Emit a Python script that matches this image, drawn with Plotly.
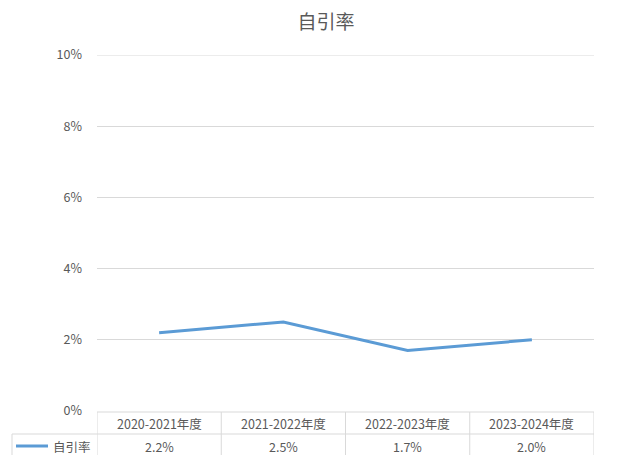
import plotly.graph_objects as go

categories = ["2020-2021年度", "2021-2022年度", "2022-2023年度", "2023-2024年度"]
values = [0.022, 0.025, 0.017, 0.020]
series_name = "自引率"
title = "自引率"
y_max = 0.1

OFF = 8  # default page body margin
W, H = 644 - OFF, 474 - OFF
# plot area in page pixels: x 97..594, y 55..411
L = 97 - OFF
R = W - (594 - OFF)
T = 55 - OFF
B = H - (411 - OFF)
font_family = "Noto Sans CJK SC, Noto Sans, sans-serif"
txt = "#595959"
grid = "#d9d9d9"
line_color = "#5b9bd5"

fig = go.Figure()
fig.add_trace(go.Scatter(x=list(range(len(categories))), y=values, mode="lines",
                         name=series_name,
                         line=dict(color=line_color, width=3), showlegend=False))

plot_h = H - T - B
plot_w = W - L - R

def py(page_y):  # page pixel y -> paper
    return (H - B - (page_y - OFF)) / plot_h

def px_x(page_x):
    return ((page_x - OFF) - L) / plot_w

shapes = []
# top gridline at the axis maximum
shapes.append(dict(type="line", xref="paper", yref="y", x0=0, x1=1, y0=y_max, y1=y_max,
                   line=dict(color=grid, width=1), layer="below"))
top_y, mid_y, bot_y = 412, 434, 455
shapes.append(dict(type="line", xref="paper", yref="paper", x0=px_x(97), x1=px_x(594),
                   y0=py(top_y), y1=py(top_y), line=dict(color=grid, width=1)))
shapes.append(dict(type="line", xref="paper", yref="paper", x0=px_x(12), x1=px_x(594),
                   y0=py(mid_y), y1=py(mid_y), line=dict(color=grid, width=1)))
for i in range(len(categories) + 1):
    shapes.append(dict(type="line", xref="x", yref="paper", x0=i - 0.5, x1=i - 0.5,
                       y0=py(top_y), y1=py(bot_y), line=dict(color=grid, width=1)))
shapes.append(dict(type="line", xref="paper", yref="paper", x0=px_x(12), x1=px_x(12),
                   y0=py(mid_y), y1=py(bot_y), line=dict(color=grid, width=1)))
shapes.append(dict(type="line", xref="paper", yref="paper", x0=px_x(16), x1=px_x(48),
                   y0=py(446), y1=py(446), line=dict(color=line_color, width=3)))

annotations = []
for i, (c, v) in enumerate(zip(categories, values)):
    annotations.append(dict(x=i, y=py(423), xref="x", yref="paper", text=c, showarrow=False,
                            font=dict(size=12.5, color=txt, family=font_family),
                            xanchor="center", yanchor="middle"))
    annotations.append(dict(x=i, y=py(446), xref="x", yref="paper", text=f"{v*100:.1f}%",
                            showarrow=False, font=dict(size=12.5, color=txt, family=font_family),
                            xanchor="center", yanchor="middle"))
annotations.append(dict(x=px_x(51), y=py(446), xref="paper", yref="paper", text=series_name,
                        showarrow=False, font=dict(size=12.5, color=txt, family=font_family),
                        xanchor="left", yanchor="middle"))

fig.update_layout(
    width=W, height=H,
    margin=dict(l=L, r=R, t=T, b=B, pad=0),
    paper_bgcolor="white", plot_bgcolor="white",
    title=dict(text=title, x=0.5, xanchor="center", y=1 - (22 - OFF) / H, yanchor="middle",
               font=dict(size=19, color=txt, family=font_family)),
    xaxis=dict(range=[-0.5, len(categories) - 0.5], showgrid=False, zeroline=False,
               showticklabels=False, showline=False, fixedrange=True),
    yaxis=dict(range=[0, y_max], dtick=0.02, tickformat=".0%", showgrid=True,
               gridcolor=grid, gridwidth=1, zeroline=False, showline=False,
               tickfont=dict(size=12.5, color=txt, family=font_family), ticks="",
               ticklabelstandoff=14),
    shapes=shapes, annotations=annotations,
)

fig.write_html("out.html")
